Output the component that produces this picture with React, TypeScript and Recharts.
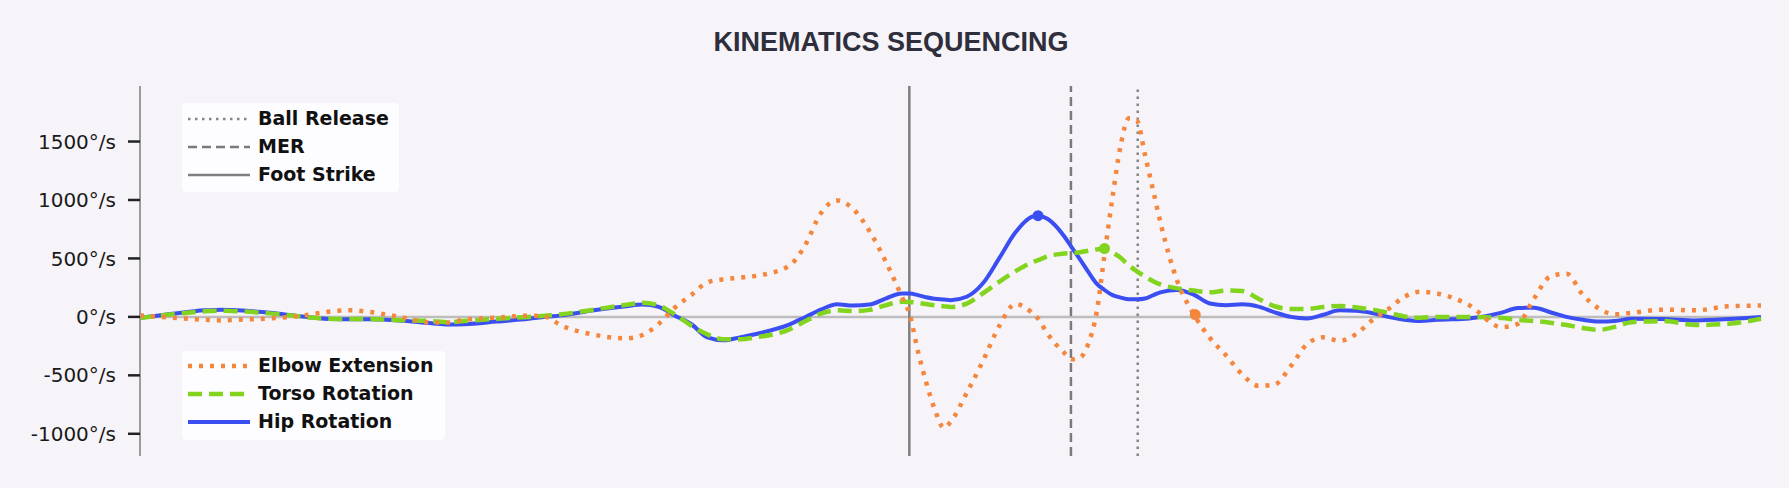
import React from 'react';
import { LineChart, Line, XAxis, YAxis, ReferenceLine, ReferenceDot } from 'recharts';

// time axis (% of the captured window) and angular velocities in deg/s
const times = [
  0, 2, 4, 5, 6, 8, 10, 12, 13, 14, 16, 18, 19, 20, 22, 24, 25, 26, 28, 30,
  31, 32, 33, 34, 35, 36, 37, 38, 40, 41, 42, 43, 44, 45, 46, 47, 47.5, 48, 48.5, 49,
  49.6, 50, 51, 52, 53, 54, 55, 55.4, 56, 57, 57.5, 58, 58.5, 59, 59.5, 60, 60.5, 61, 61.5, 62,
  62.5, 63, 64, 65, 66, 67, 68, 69, 70, 71, 72, 73, 74, 75, 76, 77, 78, 79, 80, 82,
  84, 85, 86, 87, 88, 89, 90, 91, 92, 94, 96, 98, 100,
];

const hipRotation = [
  -8, 27, 56, 62, 56, 36, 4, -19, -20, -20, -30, -55, -65, -62, -40, -16, 0, 13, 56, 91,
  105, 85, 10, -61, -175, -200, -175, -146, -68, -5, 62, 108, 97, 105, 157, 200, 200, 186, 168, 155,
  148, 143, 172, 287, 500, 721, 855, 866, 837, 692, 590, 490, 385, 287, 230, 186, 165, 150, 150, 157,
  185, 212, 230, 190, 115, 100, 108, 88, 39, 0, -13, 18, 56, 52, 33, 0, -25, -36, -25, -13,
  36, 75, 79, 40, 0, -25, -40, -35, -15, -19, -30, -19, 0,
];

const torsoRotation = [
  -10, 22, 48, 52, 48, 30, 2, -18, -18, -18, -28, -36, -45, -36, -16, 0, 10, 22, 62, 103,
  120, 97, 20, -74, -150, -192, -192, -175, -111, -40, 27, 56, 50, 60, 100, 130, 128, 120, 110, 100,
  90, 85, 114, 201, 300, 389, 465, 485, 518, 542, 548, 553, 565, 577, 585, 550, 505, 440, 390, 345,
  305, 275, 244, 225, 210, 225, 221, 155, 91, 68, 68, 85, 94, 82, 62, 35, 4, -7, 0, 0,
  -10, -25, -35, -50, -70, -95, -111, -85, -45, -36, -70, -59, -16,
];

const elbowExtension = [
  13, -7, -25, -30, -25, -13, 10, 50, 56, 45, 0, -48, -48, -25, -7, 10, 0, -74, -152, -184,
  -155, -60, 80, 186, 295, 322, 335, 351, 432, 605, 886, 996, 923, 735, 475, 172, 13, -300, -560, -780,
  -950, -900, -650, -377, -80, 110, 40, -15, -146, -305, -363, -348, -230, 27, 530, 1030, 1470, 1700, 1680, 1385,
  1082, 780, 302, 25, -180, -330, -493, -590, -578, -420, -233, -175, -204, -150, -30, 65, 172, 215, 201, 100,
  -88, -60, 157, 345, 370, 190, 71, 22, 35, 62, 56, 91, 97,
];

// pitch events
const eventNames = ['Ball Release', 'MER', 'Foot Strike'];
const eventTimes = [61.55, 57.43, 47.46];

// peak markers
const peakKeys = ['hip', 'torso', 'elbow'];
const peakTimes = [55.4, 59.5, 65.1];
const peakValues = [866, 585, 20];

const yTicks = [-1000, -500, 0, 500, 1000, 1500];

const data = times.map((t, i) => ({
  t,
  hip: hipRotation[i],
  torso: torsoRotation[i],
  elbow: elbowExtension[i],
}));

const COLORS: Record<string, string> = {
  hip: '#3b4ef2',
  torso: '#82d41e',
  elbow: '#f5863d',
};

const EVENT_STYLE = [
  { stroke: '#858585', dash: '2.5 4.5', width: 2.5 },
  { stroke: '#7a7a7a', dash: '9 5', width: 2.5 },
  { stroke: '#7f7f7f', dash: undefined, width: 2.5 },
];

const SERIES = [
  { key: 'elbow', label: 'Elbow Extension', dash: '4 7', width: 4.5 },
  { key: 'torso', label: 'Torso Rotation', dash: '14 7', width: 4.5 },
  { key: 'hip', label: 'Hip Rotation', dash: undefined, width: 4 },
];

const legendText: React.CSSProperties = {
  position: 'absolute',
  left: 76,
  fontFamily: '"DejaVu Sans", sans-serif',
  fontWeight: 'bold',
  fontSize: 19,
  color: '#111',
  lineHeight: '20px',
  whiteSpace: 'nowrap',
};

interface LegendRow {
  label: string;
  stroke: string;
  dash?: string;
  width: number;
}

const LegendBox: React.FC<{ left: number; top: number; width: number; rows: LegendRow[]; rowTops: number[] }> = ({
  left,
  top,
  width,
  rows,
  rowTops,
}) => (
  <div
    style={{
      position: 'absolute',
      left,
      top,
      width,
      height: 89,
      background: '#fdfcfe',
      borderRadius: 4,
    }}
  >
    {rows.map((r, i) => (
      <React.Fragment key={r.label}>
        <svg style={{ position: 'absolute', left: 6, top: rowTops[i] - 5 }} width={64} height={10}>
          <line x1={0} y1={5} x2={62} y2={5} stroke={r.stroke} strokeWidth={r.width} strokeDasharray={r.dash} />
        </svg>
        <div style={{ ...legendText, top: rowTops[i] - 11 }}>{r.label}</div>
      </React.Fragment>
    ))}
  </div>
);

const App: React.FC = () => {
  return (
    <div
      style={{
        position: 'absolute',
        left: 0,
        top: 0,
        width: 1789,
        height: 488,
        background: '#f7f4f9',
        overflow: 'hidden',
      }}
    >
      <div
        style={{
          position: 'absolute',
          left: 0,
          top: 26,
          width: 1782,
          textAlign: 'center',
          fontFamily: '"Liberation Sans", Arial, sans-serif',
          fontWeight: 'bold',
          fontSize: 27,
          color: '#2e2e3d',
          lineHeight: '32px',
        }}
      >
        KINEMATICS SEQUENCING
      </div>

      <LineChart
        width={1789}
        height={488}
        data={data}
        margin={{ top: 86, right: 28, bottom: 32, left: 0 }}
      >
        <XAxis
          type="number"
          dataKey="t"
          domain={[0, 100]}
          tick={false}
          tickLine={false}
          height={0}
          axisLine={{ stroke: '#9c9c9c', strokeWidth: 2 }}
        />
        <YAxis
          type="number"
          domain={[-1190, 1975]}
          ticks={yTicks}
          width={140}
          allowDataOverflow
          tickFormatter={(v: number) => `${v}°/s`}
          tick={{ fill: '#1a1a1a', fontSize: 20, fontFamily: '"DejaVu Sans", sans-serif' }}
          tickSize={12}
          tickMargin={12}
          tickLine={{ stroke: '#222', strokeWidth: 2.5 }}
          axisLine={{ stroke: '#9c9c9c', strokeWidth: 2 }}
        />
        <ReferenceLine y={0} stroke="#bdbdbd" strokeWidth={2.5} />
        {eventTimes.map((t, i) => (
          <ReferenceLine
            key={eventNames[i]}
            x={t}
            stroke={EVENT_STYLE[i].stroke}
            strokeWidth={EVENT_STYLE[i].width}
            strokeDasharray={EVENT_STYLE[i].dash}
          />
        ))}
        {[...SERIES].reverse().map((s) => (
          <Line
            key={s.key}
            type="monotone"
            dataKey={s.key}
            stroke={COLORS[s.key]}
            strokeWidth={s.width}
            strokeDasharray={s.dash}
            dot={false}
            activeDot={false}
            isAnimationActive={false}
          />
        ))}
        {peakKeys.map((k, i) => (
          <ReferenceDot key={k} x={peakTimes[i]} y={peakValues[i]} r={5.5} fill={COLORS[k]} stroke="none" />
        ))}
      </LineChart>

      <LegendBox
        left={182}
        top={103}
        width={217}
        rowTops={[15.5, 44, 71.5]}
        rows={eventNames.map((n, i) => ({
          label: n,
          stroke: EVENT_STYLE[i].stroke,
          dash: EVENT_STYLE[i].dash,
          width: EVENT_STYLE[i].width,
        }))}
      />
      <LegendBox
        left={182}
        top={351}
        width={263}
        rowTops={[14.5, 42.5, 71]}
        rows={SERIES.map((s) => ({ label: s.label, stroke: COLORS[s.key], dash: s.dash, width: s.width }))}
      />
    </div>
  );
};

export default App;
